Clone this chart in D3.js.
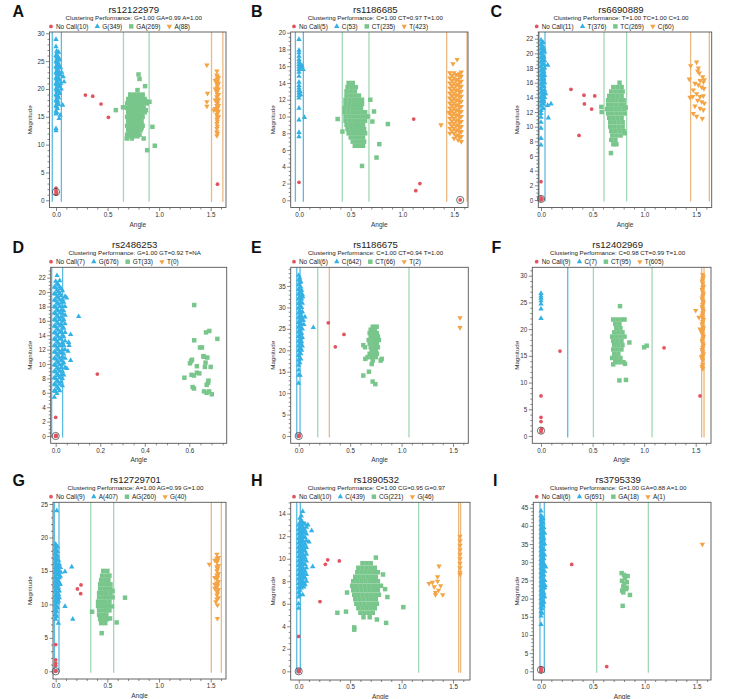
<!DOCTYPE html>
<html><head><meta charset="utf-8">
<script src="https://cdn.jsdelivr.net/npm/d3@7"></script>
<style>
body{margin:0;background:#fff;}
text{font-family:"Liberation Sans",Arial,sans-serif;}
</style></head><body>
<svg id="c" width="753" height="699"></svg>
<script>
// ---------- DATA ----------
const letters = ["A","B","C","D","E","F","G","H","I"];
const titles = ["rs12122979","rs1186685","rs6690889","rs2486253","rs1186675","rs12402969","rs12729701","rs1890532","rs3795339"];
const subtitles = [
 "Clustering Performance: G=1.00 GA=0.99 A=1.00",
 "Clustering Performance: C=1.00 CT=0.97 T=1.00",
 "Clustering Performance: T=1.00 TC=1.00 C=1.00",
 "Clustering Performance: G=1.00 GT=0.92 T=NA",
 "Clustering Performance: C=1.00 CT=0.94 T=1.00",
 "Clustering Performance: C=0.98 CT=0.99 T=1.00",
 "Clustering Performance: A=1.00 AG=0.99 G=1.00",
 "Clustering Performance: C=1.00 CG=0.95 G=0.97",
 "Clustering Performance: G=1.00 GA=0.88 A=1.00"];
const legendLabels = [
 ["No Call(10)","G(349)","GA(269)","A(88)"],
 ["No Call(5)","C(53)","CT(235)","T(423)"],
 ["No Call(11)","T(376)","TC(269)","C(60)"],
 ["No Call(7)","G(676)","GT(33)","T(0)"],
 ["No Call(6)","C(642)","CT(66)","T(2)"],
 ["No Call(9)","C(7)","CT(95)","T(605)"],
 ["No Call(9)","A(407)","AG(260)","G(40)"],
 ["No Call(10)","C(439)","CG(221)","G(46)"],
 ["No Call(6)","G(691)","GA(18)","A(1)"]];
const xTickMax = [1.5,1.5,1.5,0.6,1.5,1.5,1.5,1.5,1.5];
const xTickStep = [0.5,0.5,0.5,0.2,0.5,0.5,0.5,0.5,0.5];
const yTickMax = [30,20,22,22,35,30,25,14,45];
const yTickStep = [5,2,2,2,5,5,5,2,5];
const highlighted = [[0,1.5],[1.56,0.04],[0,0.15],[0,0],[0,0],[0,1.0],[0,0],[0,0],[0,0.4]];

// cluster boundary angles: [genotype1, genotype2, genotype3]
const A_lines = [[-0.036,0.052],[0.654,0.903],[1.508,1.618]];
const B_lines = [[-0.035,0.042],[0.419,0.677],[1.429,1.626]];
const C_lines = [[-0.019,0.039],[0.61,0.829],[1.448,1.629]];
const D_lines = [[-0.018,0.031],[],[]];
const E_lines = [[-0.019,0.013],[0.185,1.072],[0.298]];
const F_lines = [[0.259],[0.508,1.077],[1.558,1.581]];
const G_lines = [[-0.013,0.032],[0.339,0.561],[1.506,1.603]];
const H_lines = [[-0.019,0.016],[1.166],[1.555,1.574]];
const I_lines = [[-0.01,0.032],[0.536,1.034],[]];

// points: [angle, magnitude], [angle, [magnitudes...]] or [[angles...], magnitude]
const A_noCall = [[0.285,18.9],[0.356,18.7],[0.437,17.3],[0.508,14.9],[1.566,2.9],[0,2.2],[0,1.7],[0.005,1.4],[0,1.1],[0.003,1.5]];
const A_g = [[0,[12.5,12.9,15.5,16,17,18,19,20,21,22,23,24,25,26,27.6,28.9]],[0.006,[15.8,16.8,17.8,18.8,19.8,20.8,21.8,22.8,23.8,24.8,25.8,26.8]],[0.012,[16.5,17.5,18.5,19.5,20.5,21.5,22.5,23.5,24.5,25.5,26.5]],[0.018,[17.8,18.8,19.8,20.8,21.8,22.8,23.8,24.8,25.8]],[0.025,[17.2,18.4,19.6,20.8,22,23.2,24.4,25.6,26.6]],[0.035,[19.2,20.4,21.6,22.8,24,25.2]],[0.045,[21,22.5,23.8]],[0.07,22.2],[0.078,21.3],[0.065,17.1],[0.04,15.3],[0.03,14.7],[0.055,23],[0.05,20]];
const A_ga = [[[0.72,0.76,0.80,0.84],19.0],[[0.72,0.76,0.80,0.84],18.6],[[0.70,0.74,0.78,0.82,0.86],18.2],[[0.71,0.75,0.79,0.83,0.87],17.8],[[0.69,0.73,0.77,0.81,0.85,0.88],17.4],[[0.71,0.75,0.79,0.83],17.0],[[0.69,0.73,0.77,0.81,0.85],16.6],[[0.71,0.75,0.79,0.83,0.87],16.2],[[0.70,0.74,0.78,0.82,0.86],15.8],[[0.71,0.75,0.79,0.83],15.4],[[0.69,0.73,0.77,0.81,0.84],15.0],[[0.71,0.75,0.79,0.83],14.6],[[0.70,0.74,0.78,0.82],14.2],[[0.71,0.75,0.79,0.83],13.8],[[0.69,0.73,0.77,0.81,0.84],13.4],[[0.71,0.75,0.79,0.83],13.0],[[0.70,0.74,0.78,0.82],12.6],[[0.71,0.75,0.79],12.2],[[0.69,0.73,0.77,0.81],11.8],[[0.71,0.75,0.79],11.5],[[0.686,0.735,0.85],11.1],[0.58,16.2],[0.65,16.7],[0.8,22.6],[0.81,21.8],[0.864,20.5],[0.906,17.7],[0.935,13.2],[0.958,9.8],[0.884,9.0],[0.79,19.8]];
const A_a = [[1.56,[11.6,12.3,12.9,13.8,14.6,15.4,16.2,17,17.8,18.6,19.4,20.2,21,21.8,22.5,23.2]],[1.565,[12,13.3,14.2,15,15.8,16.6,17.4,18.2,19,19.8,20.6,21.4,22.2]],[1.575,[15,16,17,18,19,20,21,22]],[1.545,[16.5,18,20,21.5]],[1.463,24.3],[1.469,19.2],[1.463,17.7],[1.463,16.9],[1.53,16.2]];

const B_noCall = [[0,2.15],[1.11,9.7],[1.17,2.0],[1.13,1.15],[1.56,0.04]];
const B_c = [[0,[7.6,8.1,9.6,11,12.2,12.5,12.8,13.1,13.4,13.7,14.1,14.8,15.3,15.6,15.9,16.2,16.5,16.8,17.2,17.6,17.9,19.2]],[0.012,16.3],[0.02,15.8],[0.03,16.0],[0.04,15.6],[0.052,9.9],[0.01,13.0],[0.015,12.6]];
const B_ct = [[[0.48,0.52],14.0],[[0.47,0.51,0.55],13.5],[[0.46,0.50,0.54],13.0],[[0.46,0.50,0.54,0.58],12.5],[[0.45,0.49,0.53,0.57,0.61],12.0],[[0.45,0.49,0.53,0.57,0.61],11.5],[[0.44,0.48,0.52,0.56,0.60],11.0],[[0.44,0.48,0.52,0.56,0.60,0.64],10.5],[[0.45,0.49,0.53,0.57,0.61,0.65],10.0],[[0.45,0.49,0.53,0.57,0.61,0.64],9.5],[[0.46,0.50,0.54,0.58,0.62],9.0],[[0.47,0.51,0.55,0.59,0.63],8.5],[[0.48,0.52,0.56,0.60,0.64],8.0],[[0.50,0.54,0.58,0.62],7.5],[[0.52,0.56,0.60,0.63],7.0],[[0.54,0.58,0.62],6.5],[0.374,9.7],[0.69,12.0],[0.726,10.6],[0.71,9.4],[0.668,10.0],[0.86,9.1],[0.777,6.7],[0.75,5.1],[0.61,4.1],[0.42,8.2]];
const B_t = [[1.46,[8.0,8.6,9.2,9.8,10.4,11,11.6,12.2,12.8,13.4,14,14.6,15.2]],[1.48,[8.3,8.9,9.5,10.1,10.7,11.3,11.9,12.5,13.1,13.7,14.3,14.9]],[1.50,[7.4,8,8.6,9.2,9.8,10.4,11,11.6,12.2,12.8,13.4,14,14.6,15.2]],[1.52,[7.7,8.3,8.9,9.5,10.1,10.7,11.3,11.9,12.5,13.1,13.7,14.3,15]],[1.54,[7.2,7.8,8.4,9,9.6,10.2,10.8,11.4,12,12.6,13.2,13.8,14.4,15]],[1.555,[7.5,8.1,8.7,9.3,9.9,10.5,11.1,11.7,12.3,12.9,13.5,14.1,14.7,15.1]],[1.57,[7,7.6,8.2,8.8,9.4,10,10.6,11.2,11.8,12.4,13,13.6,14.2,14.8,15.3]],[1.53,16.8],[1.49,16.3],[1.374,9.0],[1.45,10.5]];

const C_noCall = [[0.29,15.1],[0.416,14.3],[0.42,13.1],[0.52,14.2],[0.49,12.4],[0.368,8.8],[0,2.5],[0,0.3],[0.005,0.1],[0,0.0],[0.008,0.2]];
const C_t = [[0,[7.5,8.4,9.8,10.6,11.3,11.8,12.2,12.8,13.4,14,14.6,15.2,15.8,16.4,17,17.6,18.2,18.8,19.4,20,20.6,21.2,21.8]],[0.01,[13.1,13.7,14.3,14.9,15.5,16.1,16.7,17.3,17.9,18.5,19.1,19.7,20.3,20.9,21.5]],[0.02,[12.5,13.1,13.7,14.3,14.9,15.5,16.1,16.7,17.3,17.9,18.5,19.1,19.7,20.3,20.9,21.5]],[0.028,[13.4,14.5,15.5,16.5,17.5,18.5,19.5,20.6]],[0.035,[14,15,16,17,18,19,20.2]],[0.065,18.4],[0.097,13.1],[0.065,12.9],[0.071,11.2],[0.045,14.5]];
const C_tc = [[[0.76],16.0],[[0.70,0.74,0.78],15.4],[[0.68,0.72,0.76,0.79],14.8],[[0.66,0.70,0.74,0.78],14.2],[[0.65,0.69,0.73,0.77,0.80],13.6],[[0.65,0.69,0.73,0.77,0.80],13.0],[[0.64,0.68,0.72,0.76,0.80],12.4],[[0.65,0.69,0.73,0.77,0.81],11.8],[[0.66,0.70,0.74,0.78],11.2],[[0.67,0.71,0.75,0.79],10.6],[[0.67,0.71,0.75,0.79],10.0],[[0.68,0.72,0.76,0.80],9.4],[[0.69,0.73,0.77],8.8],[[0.68,0.72],8.2],[[0.70,0.73],7.6],[0.677,6.4],[0.584,12.7],[0.587,12.0],[0.82,12.6],[0.81,9.1]];
const C_c = [[1.448,18.3],[1.506,18.8],[1.523,18.0],[1.516,17.6],[1.532,17.3],[1.435,16.5],[1.565,16.8],[1.539,16.3],[1.571,16.1],[1.49,15.9],[1.523,15.7],[1.555,15.4],[1.577,15.2],[1.474,15.0],[1.506,14.5],[1.442,14.0],[1.539,14.1],[1.571,14.2],[1.516,13.6],[1.555,13.4],[1.58,13.2],[1.49,12.8],[1.539,12.5],[1.571,12.3],[1.474,11.8],[1.506,11.4],[1.561,11.1],[1.468,14.1],[1.58,16.4]];

const D_noCall = [[0,2.6],[0.187,8.6],[0,0],[0.002,0.1],[0,-0.05],[0.003,0],[0,0.05]];
const D_g = [[-0.006,[5.4,6.3,7.2,8.1,9,9.9,10.8,11.7,12.6,13.5,14.4,15.3,16.2,17.1,18,18.9,19.8,20.7]],[0,[6.2,7.1,8,8.9,9.8,10.7,11.6,12.5,13.4,14.3,15.2,16.1,17,17.9,18.8,19.7,20.6,21.5]],[0.006,[5.9,6.8,7.7,8.6,9.5,10.4,11.3,12.2,13.1,14,14.9,15.8,16.7,17.6,18.5,19.4,20.3,21.2,22.3]],[0.012,[6.6,7.5,8.4,9.3,10.2,11.1,12,12.9,13.8,14.7,15.6,16.5,17.4,18.3,19.2,20.1,21]],[0.018,[6.3,7.2,8.1,9,9.9,10.8,11.7,12.6,13.5,14.4,15.3,16.2,17.1,18,18.9,19.8,20.7,21.6]],[0.024,[7.5,8.5,9.5,10.5,11.5,12.5,13.5,14.5,15.5,16.5,17.5,18.5,19.5,20.5]],[0.03,[7,8,9,10,11,12,13,14,15,16,17,18,19,20.2]],[0.036,[8.5,10.2,11.4,12.6,13.8,15,16.2,17.4,18.6]],[0.042,[9.5,10.8,12,13.2,14.4,15.6,16.8,18,19.4]],[0.103,16.6],[0.049,19.2],[0.067,14.1],[0.067,10.5],[0.055,11.8],[0.058,13.0],[0.05,9.4],[0.06,12.6]];
const D_gt = [[0.622,18.2],[0.69,14.6],[0.675,14.4],[0.726,13.5],[0.622,13.3],[0.648,12.3],[0.657,12.3],[0.666,11.0],[0.681,10.9],[0.612,10.6],[0.603,10.1],[0.634,9.7],[0.673,10.2],[0.67,9.6],[0.696,9.6],[0.61,8.5],[0.621,8.4],[0.645,8.7],[0.634,8.8],[0.578,8.1],[0.686,7.7],[0.678,7.1],[0.621,6.6],[0.615,6.8],[0.666,6.2],[0.689,6.2],[0.701,5.8],[0.678,6.0],[0.608,10.4],[0.663,11.1],[0.684,7.4]];
const D_t = [];

const E_noCall = [[0.288,26.4],[0.44,23.7],[0.356,20.8],[0,0],[0.003,0.2],[0,-0.1]];
const E_c = [[0,[12.3,14.2,15.4,16.5,17.7,18.8,19.9,21,22.1,23.2,24.3,25.4,26.5,27.6,28.7,29.8,30.9,32,33.1,34.2,35.3,36.4,37.5]],[0.01,[17.1,18.2,19.3,20.4,21.5,22.6,23.7,24.8,25.9,27,28.1,29.2,30.3,31.4,32.5,33.6,34.7,35.8,36.9]],[0.02,[18,19.2,20.4,21.6,22.8,24,25.2,26.4,27.6,28.8,30,31.2,32.4,33.6,34.8,36]],[0.028,[20,22,24,26,28,30,32,34]],[0.035,[21,23,25,27,29,31,33]],[0.142,25.3],[0.039,32.5],[0.06,27.8],[0.045,27.0],[0.013,14.2],[0.05,26]];
const E_ct = [[[0.72,0.758],25.5],[[0.70,0.74],24.8],[[0.69,0.73,0.76],24.0],[[0.70,0.74,0.77],23.2],[[0.68,0.72,0.75,0.78],22.4],[[0.69,0.73,0.76],21.6],[0.628,21.2],[[0.645,0.70,0.74,0.77],20.7],[[0.71,0.75],20.0],[[0.69,0.73,0.76],19.2],[[0.67,0.71,0.75],18.4],[[0.648,0.807],18.0],[[0.72,0.797],17.6],[0.71,16.8],[0.683,15.0],[0.628,14.1],[0.719,12.7],[0.745,12.1]];
const E_t = [[1.568,27.6],[1.568,25.3]];

const F_noCall = [[0.184,15.9],[1.193,16.5],[1.542,7.5],[0,7.5],[0,3.5],[0,2.7],[0,0.8],[0,1.1],[0.005,1.3]];
const F_c = [[0,[26.7,26.2,25.8,25.3,24.7,23.8,22.0]]];
const F_ct = [[[0.70,0.74,0.78,0.81],21.8],[[0.72,0.76],21.0],[[0.73,0.77],20.2],[[0.71,0.75,0.79],19.4],[[0.69,0.73,0.77,0.81],18.6],[[0.70,0.74,0.78],17.8],[[0.71,0.75,0.79],17.0],[[0.70,0.74,0.78],16.2],[[0.71,0.75],15.4],[[0.69,0.73,0.77],14.6],[[0.72,0.76,0.80],13.8],[0.766,24.3],[0.857,17.5],[1.0,16.6],[1.025,16.9],[0.76,10.4],[0.824,10.5],[0.815,13.5],[0.70,13.4]];
const F_t = [[1.568,[12.6,13.4,14.2,15,15.8,16.6,17.4,18.2,19,19.8,20.6,21.4,22.2,23,23.8,24.6,25.4,26.2,27,27.8,28.6,29.4,30.2]],[1.562,[13,14.6,16.2,17.8,19.4,21,22.6,24.2,25.8,27.4,29]],[1.575,[15.4,17,18.6,20.2,21.8,23.4,25,26.6,28,29.8]],[1.5,23.5],[1.532,22.2],[1.542,20.0],[1.56,19.4],[1.555,14.8]];

const G_noCall = [[0.21,12.3],[0.245,12.9],[0.242,11.6],[0,4.0],[0,1.7],[0,1.2],[0,0.85],[0,0],[0.003,0.1]];
const G_a = [[0,[7.8,8.5,9.2,9.9,10.6,11.3,12,12.7,13.4,14.1,14.8,15.5,16.2,16.9,17.6,18.3,19]],[0.008,[8.2,8.9,9.6,10.3,11,11.7,12.4,13.1,13.8,14.5,15.2,15.9,16.6,17.3,18,18.7]],[0.018,[9.5,10.2,10.9,11.6,12.3,13,13.7,14.4,15.1,15.8,16.5,17.2,17.9,18.6]],[0.027,[10.5,11.5,12.5,13.5,14.5,15.5,16.6]],[0.035,[11,12,13,14,15,16]],[0.045,[13,14.2,15.5]],[0.01,24.0],[0.155,15.6],[0.09,14.9],[0.09,9.7],[0.165,7.8],[0.026,7.2],[0.05,14.8]];
const G_ag = [[[0.46,0.50],15.0],[[0.45,0.49,0.52],14.3],[[0.44,0.48,0.51],13.65],[[0.43,0.47,0.50,0.53],13.0],[[0.43,0.47,0.50,0.53],12.35],[[0.42,0.46,0.49,0.53],11.7],[[0.42,0.46,0.49,0.52,0.55],11.05],[[0.41,0.45,0.48,0.52],10.4],[[0.41,0.45,0.48,0.51],9.75],[[0.42,0.46,0.49,0.52],9.1],[[0.42,0.46,0.49],8.45],[[0.43,0.47,0.50],7.8],[[0.44,0.48],7.2],[0.352,8.9],[0.671,11.0],[0.59,7.3],[0.445,5.7],[0.545,9.7],[0.526,7.9],[0.55,12.0]];
const G_g = [[1.56,[10.8,11.4,12,12.6,13.2,13.8,14.4,15,15.6,16.3,16.9,17.5]],[1.567,[11.7,12.9,14.1,15.3,16.6]],[1.575,[11,12.2,13.4,14.6,15.8,17]],[1.54,[12.4,13,14,16.6]],[1.487,16.0],[1.565,9.9],[1.565,7.9],[1.55,10.4]];

const H_noCall = [[0.207,6.2],[0.259,9.5],[0.282,9.9],[0.395,9.8],[0,3.1],[0,0],[0.003,0.05],[0,-0.05],[0.002,0],[0,0.1]];
const H_c = [[0,[5.6,6.0,6.6,7,7.4,7.8,8.2,8.6,9,9.4,9.8,10.2,10.6,11,11.4,11.8,12.2,12.6,13]],[0.012,[6.8,7.2,7.6,8,8.4,8.8,9.2,9.6,10,10.4,10.8,11.2,11.6,12,12.4,12.8,13.2,13.6]],[0.025,[7.4,7.8,8.2,8.6,9,9.4,9.8,10.2,10.6,11,11.4,11.8,12.2,12.6,13,13.4,13.8]],[0.037,[7.6,8,8.4,8.8,9.2,9.6,10,10.4,10.8,11.2,11.6,12,12.4,12.8,13.2]],[0.05,[7.5,7.9,8.3,8.7,9.1,9.5,9.9,10.3,10.7,11.1,11.5,11.9,12.3,12.7,13.1]],[0.062,[7.7,8.3,8.9,9.5,10.1,10.7,11.3,11.9,12.5,13.1]],[0.075,[8,8.6,9.2,9.8,10.4,11,11.6,12.2,12.8]],[0.126,12.5],[0.136,9.3],[0.039,14.2],[0.039,6.8],[0.1,11.5],[0.09,13.0]];
const H_cg = [[[0.62,0.66,0.70],9.6],[[0.58,0.62,0.66,0.70,0.74],9.2],[[0.57,0.61,0.65,0.69,0.73,0.77],8.8],[[0.55,0.59,0.63,0.67,0.71,0.75],8.4],[[0.53,0.57,0.61,0.65,0.69,0.73,0.77],8.0],[[0.52,0.56,0.60,0.64,0.68,0.72,0.76,0.80],7.6],[[0.53,0.57,0.61,0.65,0.69,0.73,0.77],7.2],[[0.54,0.58,0.62,0.66,0.70,0.74,0.78],6.8],[[0.55,0.59,0.63,0.67,0.71,0.75],6.4],[[0.56,0.60,0.64,0.68,0.72,0.76],6.0],[[0.58,0.62,0.66,0.70,0.74],5.6],[[0.60,0.64,0.68,0.72],5.2],[[0.63,0.69],4.8],[0.75,10.1],[0.376,5.2],[0.46,5.3],[0.54,3.9],[0.54,3.7],[0.862,6.6],[1.017,5.7],[0.85,4.3],[0.76,4.6],[0.82,8.6],[0.84,7.3],[0.47,7.0]];
const H_g = [[1.568,[8.6,8.8,9.2,9.6,10,10.4,10.8,11.2,11.6,12]],[1.267,7.8],[1.318,7.5],[1.35,8.0],[1.364,9.35],[1.33,7.0],[1.4,6.8],[1.33,6.8],[1.38,7.6],[1.35,8.4],[1.36,7.2],[1.30,7.9]];

const I_noCall = [[0.296,29.4],[0.633,1.3],[0,0.3],[0,0],[0.003,0.6],[0,0.9]];
const I_g = [[0,[12.9,15.2,16.4,17.6,18.8,20,21.2,22.4,23.6,24.8,26,27.2,28.4,29.6,30.8,32,33.2,34.4,35.6,36.8,38,39.2,40.4,41.6,42.8,44.1]],[0.01,[16,17.2,18.4,19.6,20.8,22,23.2,24.4,25.6,26.8,28,29.2,30.4,31.6,32.8,34,35.2,36.4,37.6,38.8,40,41.2,42.4]],[0.02,[18,19.2,20.4,21.6,22.8,24,25.2,26.4,27.6,28.8,30,31.2,32.4,33.6,34.8,36,37.2,38.4,39.6,40.8,42]],[0.028,[19,21.5,24,26.5,29.5,31,33.5,36.5,39.5]],[0.035,[20.5,23,25,27.5,29,32,35,38]],[0.045,28.7],[0.04,23.6]];
const I_ga = [[0.777,27],[0.8,26.5],[0.835,26.2],[0.781,24.9],[0.826,24.5],[0.793,23.3],[0.819,22.6],[0.781,22.2],[0.793,21.7],[0.857,21.0],[0.787,18.0],[0.81,25.7],[0.825,23],[0.80,24.0]];
const I_a = [[1.555,34.9]];

const seriesByPanel = [
 [A_noCall,A_g,A_ga,A_a],[B_noCall,B_c,B_ct,B_t],[C_noCall,C_t,C_tc,C_c],
 [D_noCall,D_g,D_gt,D_t],[E_noCall,E_c,E_ct,E_t],[F_noCall,F_c,F_ct,F_t],
 [G_noCall,G_a,G_ag,G_g],[H_noCall,H_c,H_cg,H_g],[I_noCall,I_g,I_ga,I_a]];
const linesByPanel = [A_lines,B_lines,C_lines,D_lines,E_lines,F_lines,G_lines,H_lines,I_lines];

// ---------- LAYOUT (pixels) ----------
const layout = [
 {rect:[49.5,32,226,207.5], xa:[0,56,1.5,210.7], ya:[0,200.3,30,33.3], yMinor:1, letter:[12.5,16.5]},
 {rect:[290.7,32,468,207.5], xa:[0,299,1.5,454], ya:[0,200.3,20,32.7], yMinor:0.5, letter:[251,16.5]},
 {rect:[538.3,32,711.7,207.5], xa:[0,541,1.5,696], ya:[0,200,22,38.7], yMinor:0.5, letter:[490.5,16.5]},
 {rect:[50.7,267.3,226.7,443.3], xa:[0,55.7,0.6,189.3], ya:[0,436,22,277.7], yMinor:0.5, letter:[12.5,252.5]},
 {rect:[290.7,267.3,468.3,443.3], xa:[0,298.7,1.5,453], ya:[0,436,35,286], yMinor:1, letter:[251,252.5]},
 {rect:[532.3,267.3,711,443.3], xa:[0,541,1.5,695.7], ya:[0,436,30,275.7], yMinor:1, letter:[491.5,252.5]},
 {rect:[53,502.3,226,679], xa:[0,55.7,1.5,210.7], ya:[0,671.3,25,504], yMinor:1, letter:[12.5,486]},
 {rect:[290.7,502.3,470,680], xa:[0,298.7,1.5,453], ya:[0,671.3,14,513.7], yMinor:0.5, letter:[251,486]},
 {rect:[533.3,502.3,711,680], xa:[0,541,1.5,696.7], ya:[0,671.3,45,507.7], yMinor:1, letter:[493,486]}];
const magLabelX = [32,275,518.5];
const legendStartX = [51,294,536.7];

const colors = ["#e2535f","#34b1e4","#78c68b","#f4a445"];
const lineColors = ["#5dbbe0","#a2d8b6","#ebb880"];
const symbols = [d3.symbolCircle, d3.symbolTriangle, d3.symbolSquare, d3.symbolTriangle];
const symSizes = [11, 12.5, 20, 12.5];

function flat(s){
  const out=[];
  s.forEach(e=>{
    if(Array.isArray(e[0])) e[0].forEach(x=>out.push([x,e[1]]));
    else if(Array.isArray(e[1])) e[1].forEach(y=>out.push([e[0],y]));
    else out.push(e);
  });
  return out;
}

const svg = d3.select("#c");
svg.append("rect").attr("width",753).attr("height",699).attr("fill","#fff");

layout.forEach((p,i)=>{
  const [L,T,R,B] = p.rect;
  const col = i%3;
  const xs0 = d3.scaleLinear().domain([p.xa[0],p.xa[2]]).range([p.xa[1],p.xa[3]]);
  const ys0 = d3.scaleLinear().domain([p.ya[0],p.ya[2]]).range([p.ya[1],p.ya[3]]);
  const x = d3.scaleLinear().domain([xs0.invert(L), xs0.invert(R)]).range([L,R]);
  const y = d3.scaleLinear().domain([ys0.invert(B), ys0.invert(T)]).range([B,T]);
  const g = svg.append("g");

  g.append("text").attr("x",p.letter[0]).attr("y",p.letter[1]).text(letters[i])
   .attr("font-size",16).attr("font-weight","bold").attr("fill","#111");
  const cx = (L+R)/2 - 4;
  g.append("text").attr("x",cx).attr("y",T-19.5).attr("text-anchor","middle")
   .attr("font-size",9.6).attr("fill","#222").text(titles[i]);
  g.append("text").attr("x",cx).attr("y",T-12.3).attr("text-anchor","middle")
   .attr("font-size",6.2).attr("fill","#222").text(subtitles[i]);

  let lx = legendStartX[col];
  const ly = T-5.6;
  legendLabels[i].forEach((lab,k)=>{
    const sym = d3.symbol().type(symbols[k]).size(symSizes[k]);
    g.append("path").attr("d",sym()).attr("fill",colors[k])
     .attr("transform",`translate(${lx},${ly})`+(k===3?" rotate(180)":""));
    const t = g.append("text").attr("x",lx+5).attr("y",ly+2.2).attr("font-size",6.4)
     .attr("fill","#222").text(lab);
    lx = lx + 5 + t.node().getComputedTextLength() + 9;
  });

  linesByPanel[i].forEach((arr,k)=>{
    arr.forEach(v=>{
      g.append("line").attr("x1",x(v)).attr("x2",x(v)).attr("y1",T).attr("y2",y(0)+1.5)
       .attr("stroke",lineColors[k]).attr("stroke-width",1.3);
    });
  });

  const order=[2,1,3,0];
  order.forEach(k=>{
    const pts = flat(seriesByPanel[i][k]);
    const sym = d3.symbol().type(symbols[k]).size(symSizes[k]);
    g.append("g").selectAll("path").data(pts).join("path")
     .attr("d",sym()).attr("fill",colors[k])
     .attr("transform",d=>`translate(${x(d[0])},${y(d[1])})`+(k===3?" rotate(180)":""));
  });
  g.append("circle").attr("cx",x(highlighted[i][0])).attr("cy",y(highlighted[i][1])).attr("r",3.6)
   .attr("fill","none").attr("stroke","#333").attr("stroke-width",0.7);

  g.append("rect").attr("x",L).attr("y",T).attr("width",R-L).attr("height",B-T)
   .attr("fill","none").attr("stroke","#555").attr("stroke-width",0.9);

  const xMaj = d3.range(0, xTickMax[i]+1e-9, xTickStep[i]);
  const xMinStep = xTickStep[i]/ (i===3?4:5);
  const xMin = d3.range(0, x.domain()[1], xMinStep).filter(v=>Math.abs(v/xTickStep[i]-Math.round(v/xTickStep[i]))>1e-6);
  const yMaj = d3.range(0, yTickMax[i]+1e-9, yTickStep[i]);
  const yMin = d3.range(0, y.domain()[1], p.yMinor).filter(v=>Math.abs(v/yTickStep[i]-Math.round(v/yTickStep[i]))>1e-6);

  const style = sel=>{sel.select(".domain").remove(); sel.selectAll("line").attr("stroke","#555").attr("stroke-width",0.7);
    sel.selectAll("text").attr("font-size",6.3).attr("fill","#333").attr("font-family","Liberation Sans, Arial, sans-serif");};
  g.append("g").attr("transform",`translate(0,${B})`).call(d3.axisBottom(x).tickValues(xMin).tickSize(2).tickFormat("")).call(style);
  g.append("g").attr("transform",`translate(0,${B})`).call(d3.axisBottom(x).tickValues(xMaj).tickSize(3.5).tickPadding(1.5).tickFormat(d3.format(".1f"))).call(style);
  g.append("g").attr("transform",`translate(${L},0)`).call(d3.axisLeft(y).tickValues(yMin).tickSize(2).tickFormat("")).call(style);
  g.append("g").attr("transform",`translate(${L},0)`).call(d3.axisLeft(y).tickValues(yMaj).tickSize(3.5).tickPadding(1.5).tickFormat(d3.format("d"))).call(style);

  g.append("text").attr("x",(L+R)/2).attr("y",B+19).attr("text-anchor","middle")
   .attr("font-size",6.5).attr("fill","#333").text("Angle");
  g.append("text").attr("transform",`translate(${magLabelX[col]},${(T+B)/2}) rotate(-90)`)
   .attr("text-anchor","middle").attr("font-size",6.2).attr("fill","#333").text("Magnitude");
});
</script>
</body></html>
